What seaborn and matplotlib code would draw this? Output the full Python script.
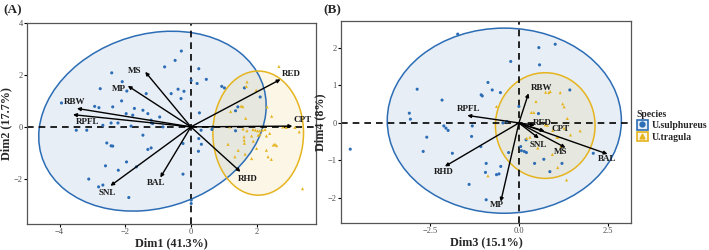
import numpy as np
import pandas as pd
import matplotlib
matplotlib.use("Agg")
import matplotlib.pyplot as plt
from matplotlib.patches import Ellipse, Rectangle
from matplotlib.lines import Line2D
import seaborn as sns

# ---------------- data ----------------
species = ["U.sulphureus", "U.tragula"]

# Panel A individuals (Dim1, Dim2)
a_sul_x = [-0.29, -0.48, -0.80, 0.24, -2.41, 0.01, 0.19, 0.47, -2.09, 0.94, 1.02, 1.63, -2.76, -0.39,
           -0.21, -1.95, -1.36, -0.60, -0.30, 2.11, -2.11, -3.94, -2.80, -2.93, -2.38, 1.43, -1.72,
           1.36, -1.46, -1.97, -1.31, 0.26, -1.77, -0.95, -1.21, -1.16, -2.43, -2.22, -3.49, -3.17,
           -2.68, -1.82, 0.67, 0.64, 1.36, 0.31, -1.46, -2.56, -2.43, -2.38, -1.21, -1.31, 0.24,
           0.32, 0.23, -0.24, -1.96, -2.60, -1.66, -2.21, -3.11, -2.81, -2.68, -0.24, 0.01, -1.89,
           -0.85, -1.20, 0.01]
a_sul_y = [2.92, 2.56, 2.31, 2.24, 2.08, 1.79, 1.67, 1.83, 1.74, 1.56, 1.50, 1.50, 1.47, 1.45,
           1.37, 1.38, 1.28, 1.28, 1.09, 1.15, 1.00, 0.92, 0.74, 0.79, 0.77, 0.77, 0.71,
           0.62, 0.64, 0.51, 0.51, 0.54, 0.45, 0.38, 0.26, 0.13, 0.15, 0.15, -0.13, -0.13,
           0.06, 0.03, 0.00, -0.10, -0.15, -0.13, -0.32, -0.62, -0.73, -0.74, -0.81, -0.87, -0.45,
           -0.67, -0.94, -0.64, -1.35, -1.50, -1.54, -1.67, -2.01, -2.31, -2.24, -1.82, -2.82, -2.72,
           0.00, 0.15, -2.95]
a_tra_x = [2.68, 1.71, 1.69, 1.99, 1.53, 1.58, 1.21, 1.67, 2.32, 2.46, 1.59, 1.71, 1.89, 1.96,
           2.03, 2.10, 2.18, 2.26, 2.40, 2.30, 2.10, 2.05, 1.62, 1.62, 1.63, 1.13, 1.44, 2.00,
           2.30, 2.51, 2.56, 2.61, 2.35, 2.45, 1.85, 1.65, 1.34, 3.30, 3.17, 2.90, 3.40, 1.85,
           2.80, 1.18, 1.90]
a_tra_y = [2.33, 1.73, 1.56, 1.41, 0.80, 0.78, 0.59, 0.33, 0.77, 0.41, -0.08, -0.15, -0.10, -0.12,
           -0.15, -0.15, -0.12, -0.10, -0.25, -0.35, -0.28, -0.32, -0.38, -0.51, -0.63, -0.67, -0.90, -0.83,
           -0.90, -0.70, -0.67, -0.72, -1.15, -1.25, -1.22, -1.05, -1.15, -0.19, -0.02, -0.02, -2.38, -0.35,
           0.00, 0.00, -0.55]

# Panel B individuals (Dim3, Dim4)
b_sul_x = [-1.72, 0.56, 1.02, -0.23, 0.58, -2.86, -2.16, -0.87, -0.75, -0.52, -1.06, -1.03, 1.43,
           0.00, -3.08, -3.05, -2.11, -2.05, -1.99, -1.31, -0.34, -2.59, -1.33, -1.07, -2.69, -1.87,
           -0.29, 0.05, 0.07, 0.15, 0.21, 0.44, 0.70, 1.21, 0.87, 2.09, -0.92, -0.51, -0.63, -0.56,
           -0.94, -1.40, -4.74, -0.92, 0.20, -0.45, 0.55]
b_sul_y = [2.37, 2.01, 2.10, 1.64, 1.55, 0.90, 0.61, 1.08, 0.88, 0.81, 0.75, 0.72, 0.88,
           0.44, 0.26, 0.10, -0.08, -0.14, -0.20, -0.08, 0.04, -0.38, -0.36, -0.63, -0.76, -0.81,
           -0.79, -0.63, -0.74, -0.76, -0.79, -1.08, -0.97, -1.08, -1.30, -0.81, -1.08, -1.16, -1.38, -1.36,
           -1.32, -1.64, -0.70, -2.05, -0.45, 0.00, 0.25]
b_tra_x = [0.75, 0.84, 0.88, 1.16, 0.48, 1.23, 1.27, 1.36, 0.35, 0.42, 0.80, 0.74, 1.07, 1.10,
           1.45, 1.72, 1.27, -0.63, 0.31, 1.18, 0.53, 1.34, -0.87, 1.09, 0.94, 0.22, 0.95]
b_tra_y = [0.82, 0.81, 0.84, 0.81, 0.57, 0.51, 0.43, 0.12, 0.28, 0.28, -0.06, -0.05, -0.38, -0.38,
           -0.32, -0.21, -0.14, 0.44, -0.38, -0.63, -0.67, -1.52, -1.41, -1.19, -0.84, -0.41, -0.20]

# Variable loadings
a_vars = ["MS", "MP", "RBW", "RPFL", "RED", "CPT", "RHD", "BAL", "SNL"]
a_var_x = [-1.39, -1.92, -3.47, -3.59, 2.73, 3.09, 1.51, -0.93, -2.45]
a_var_y = [2.12, 1.58, 0.71, 0.47, 1.83, 0.03, -1.73, -1.95, -2.27]
a_lab_dx = [-0.31, -0.27, -0.07, 0.44, 0.33, 0.30, 0.23, -0.13, -0.11]
a_lab_dy = [0.03, -0.14, 0.23, -0.28, 0.20, 0.25, -0.26, -0.20, -0.27]

b_vars = ["RBW", "RPFL", "RED", "CPT", "SNL", "MS", "BAL", "RHD", "MP"]
b_var_x = [0.27, -1.45, 0.45, 0.72, 0.56, 1.31, 2.49, -2.08, -0.51]
b_var_y = [0.79, 0.20, -0.06, -0.22, -0.41, -0.66, -0.83, -1.16, -2.10]
b_lab_dx = [0.36, 0.04, 0.22, 0.46, -0.03, -0.13, 0.00, -0.02, -0.10]
b_lab_dy = [0.13, 0.18, 0.07, 0.06, -0.19, -0.12, -0.14, -0.16, -0.09]

# Concentration ellipses: centre x, centre y, width, height, angle
a_ell = {"U.sulphureus": (-1.17, 0.22, 7.5, 6.3, 45.0), "U.tragula": (2.05, -0.24, 2.76, 4.78, 0.0)}
b_ell = {"U.sulphureus": (-0.41, 0.06, 6.58, 4.94, 0.0), "U.tragula": (0.74, -0.07, 2.80, 2.82, 0.0)}

xlabels = ["Dim1 (41.3%)", "Dim3 (15.1%)"]
ylabels = ["Dim2 (17.7%)", "Dim4 (8%)"]
panel_tags = ["(A)", "(B)"]

# ---------------- style ----------------
sns.set_style("white")
plt.rcParams["font.family"] = ["Liberation Serif", "DejaVu Serif"]
plt.rcParams["axes.unicode_minus"] = True

colors = {"U.sulphureus": "#2C6DB5", "U.tragula": "#E5B41F"}
markers = {"U.sulphureus": "o", "U.tragula": "^"}

fig = plt.figure(figsize=(7.09, 2.5), dpi=100)
axA = fig.add_axes([27 / 709, 1 - 224 / 250, 289 / 709, 201 / 250])
axB = fig.add_axes([341 / 709, 1 - 223 / 250, 290 / 709, 202 / 250])


def make_df(sx, sy, tx, ty):
    return pd.DataFrame({
        "x": list(sx) + list(tx),
        "y": list(sy) + list(ty),
        "Species": [species[0]] * len(sx) + [species[1]] * len(tx),
    })


def draw_panel(ax, df, ell, vars_, vx, vy, ldx, ldy, xl, yl, xlim, ylim, xticks, yticks, xtl):
    for sp in species:
        cx, cy, w, h, ang = ell[sp]
        ax.add_patch(Ellipse((cx, cy), w, h, angle=ang, facecolor=colors[sp], alpha=0.11,
                             edgecolor="none", zorder=1))
        ax.add_patch(Ellipse((cx, cy), w, h, angle=ang, facecolor="none",
                             edgecolor=colors[sp], lw=1.1, zorder=2))
    sns.scatterplot(data=df, x="x", y="y", hue="Species", style="Species",
                    palette=colors, markers=markers, s=5, linewidth=0, ax=ax,
                    legend=False, zorder=3)
    ax.axhline(0, color="black", lw=1.2, ls=(0, (4, 3)), zorder=2.5)
    ax.axvline(0, color="black", lw=1.2, ls=(0, (4, 3)), zorder=2.5)
    for name, x, y, dx, dy in zip(vars_, vx, vy, ldx, ldy):
        ax.annotate("", xy=(x, y), xytext=(0, 0),
                    arrowprops=dict(arrowstyle="-|>", color="black", lw=1.0,
                                    mutation_scale=5, shrinkA=0, shrinkB=0), zorder=4)
        ax.text(x + dx, y + dy, name, ha="center", va="center", fontsize=6.5,
                fontweight="bold", color="#1a1a1a", zorder=5)
    ax.set_xlim(*xlim)
    ax.set_ylim(*ylim)
    ax.set_xticks(xticks)
    ax.set_xticklabels(xtl)
    ax.set_yticks(yticks)
    ax.set_xlabel(xl, fontsize=8.7, fontweight="bold", labelpad=1)
    ax.set_ylabel(yl, fontsize=8.7, fontweight="bold", labelpad=1)
    ax.tick_params(axis="both", labelsize=6, colors="black", labelcolor="#4d4d4d",
                   length=2, width=0.8, pad=1, direction="out", bottom=True, left=True)
    for s in ax.spines.values():
        s.set_color("#555555")
        s.set_linewidth(0.9)


dfA = make_df(a_sul_x, a_sul_y, a_tra_x, a_tra_y)
dfB = make_df(b_sul_x, b_sul_y, b_tra_x, b_tra_y)

draw_panel(axA, dfA, a_ell, a_vars, a_var_x, a_var_y, a_lab_dx, a_lab_dy,
           xlabels[0], ylabels[0], (-4.99, 3.81), (-3.74, 4.0), [-4, -2, 0, 2], [-2, 0, 2, 4],
           ["\u22124", "\u22122", "0", "2"])
draw_panel(axB, dfB, b_ell, b_vars, b_var_x, b_var_y, b_lab_dx, b_lab_dy,
           xlabels[1], ylabels[1], (-5.0, 3.15), (-2.67, 2.72), [-2.5, 0.0, 2.5], [-2, -1, 0, 1, 2],
           ["\u22122.5", "0.0", "2.5"])

fig.text(3 / 709, 1 - 10 / 250, panel_tags[0], fontsize=9.5, fontweight="bold", va="center", ha="left")
fig.text(323 / 709, 1 - 10 / 250, panel_tags[1], fontsize=9.5, fontweight="bold", va="center", ha="left")

# legend
handles = []
for sp in species:
    box = Rectangle((0, 0), 1, 1, edgecolor=colors[sp], lw=1.2,
                    facecolor=matplotlib.colors.to_rgba(colors[sp], 0.12))
    mk = Line2D([], [], marker=markers[sp], color=colors[sp], ls="none", markersize=3.5)
    handles.append((box, mk))
leg = fig.legend(handles, species, loc="upper left", bbox_to_anchor=(630 / 709, 1 - 103 / 250),
                 title="Species", frameon=False, fontsize=7, title_fontproperties={"weight": "bold", "size": 7},
                 handlelength=1.1, handleheight=1.1, handletextpad=0.4, labelspacing=0.15,
                 borderpad=0.2, alignment="left")
for t in leg.get_texts():
    t.set_fontweight("bold")

fig.savefig("out.png", dpi=100)
